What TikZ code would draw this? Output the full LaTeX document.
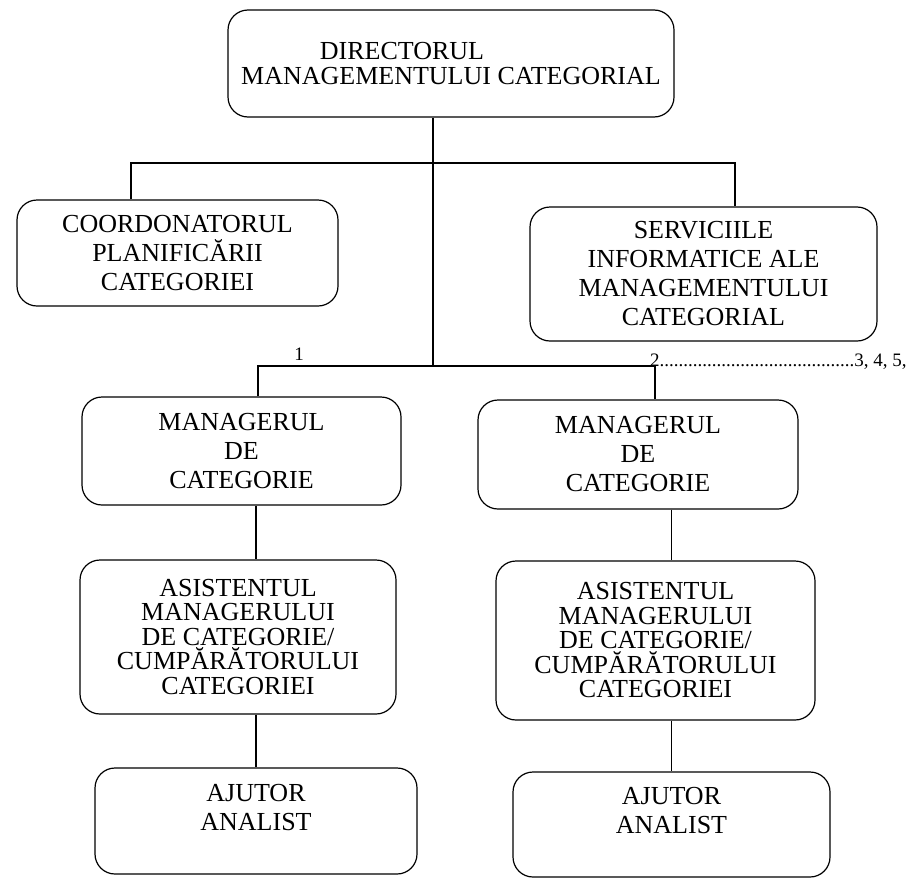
\documentclass[tikz,border=0pt]{standalone}
\usepackage{fontspec}
\setmainfont{Liberation Serif}
\tikzset{
  post/.style={draw, rounded corners=20pt, line width=1.2pt, align=center, inner sep=2pt,
    font=\fontsize{26}{29}\selectfont},
  link/.style={line width=1.1pt},
  nr/.style={font=\fontsize{19}{19}\selectfont, inner sep=0pt, anchor=base}
}

\begin{document}
\begin{tikzpicture}[x=1pt, y=-1pt]
        \useasboundingbox (0,0) rectangle (909,878);
        \node[post, minimum width=446pt, minimum height=107pt, font=\fontsize{26}{25}\selectfont] (dir) at (451,63.5)
          {DIRECTORUL\hspace*{98pt}\\MANAGEMENTULUI CATEGORIAL};
        \node[post, minimum width=321pt, minimum height=106pt] (coord) at (177.5,253) {COORDONATORUL\\PLANIFICĂRII\\CATEGORIEI};
        \node[post, minimum width=347pt, minimum height=134pt] (serv) at (703.5,274) {SERVICIILE\\INFORMATICE ALE\\MANAGEMENTULUI\\CATEGORIAL};
        \node[post, minimum width=319pt, minimum height=108pt] (man1) at (241.5,451) {MANAGERUL\\DE\\CATEGORIE};
        \node[post, minimum width=320pt, minimum height=109pt] (man2) at (638,454.5) {MANAGERUL\\DE\\CATEGORIE};
        \node[post, minimum width=316pt, minimum height=154pt, font=\fontsize{26}{24.5}\selectfont] (asist1) at (238,637)
          {ASISTENTUL\\MANAGERULUI\\DE CATEGORIE/\\CUMPĂRĂTORULUI\\CATEGORIEI};
        \node[post, minimum width=319pt, minimum height=159pt, font=\fontsize{26}{24.5}\selectfont] (asist2) at (655.5,640.5)
          {ASISTENTUL\\MANAGERULUI\\DE CATEGORIE/\\CUMPĂRĂTORULUI\\CATEGORIEI};
        \node[post, minimum width=322pt, minimum height=106pt, text depth=28pt] (ajut1) at (256,821) {AJUTOR\\ANALIST};
        \node[post, minimum width=317pt, minimum height=105pt, text depth=28pt] (ajut2) at (671.5,824.5) {AJUTOR\\ANALIST};

        \coordinate (j1) at (131,163);
        \coordinate (j2) at (735,163);
        \coordinate (k0) at (433,366);
        \coordinate (k1) at (258,366);
        \coordinate (k2) at (655,366);
        \draw[link] (dir.south -| k0) -- (k0);
        \draw[link] (coord.north -| j1) -- (j1) -- (j2) -- (serv.north -| j2);
        \draw[link] (man1.north -| k1) -- (k1) -- (k2) -- (man2.north -| k2);
        \foreach \m/\s/\h in {man1/asist1/ajut1, man2/asist2/ajut2}
          \draw[link] (\m.south -| \h.north) -- (\s.north -| \h.north) (\s.south -| \h.north) -- (\h.north);

        \node[nr] (n1) at (299,360) {1};
        \node[nr, anchor=base west] (n2) at (650,366) {2.........................................3, 4, 5,};
     \end{tikzpicture}
\end{document}
